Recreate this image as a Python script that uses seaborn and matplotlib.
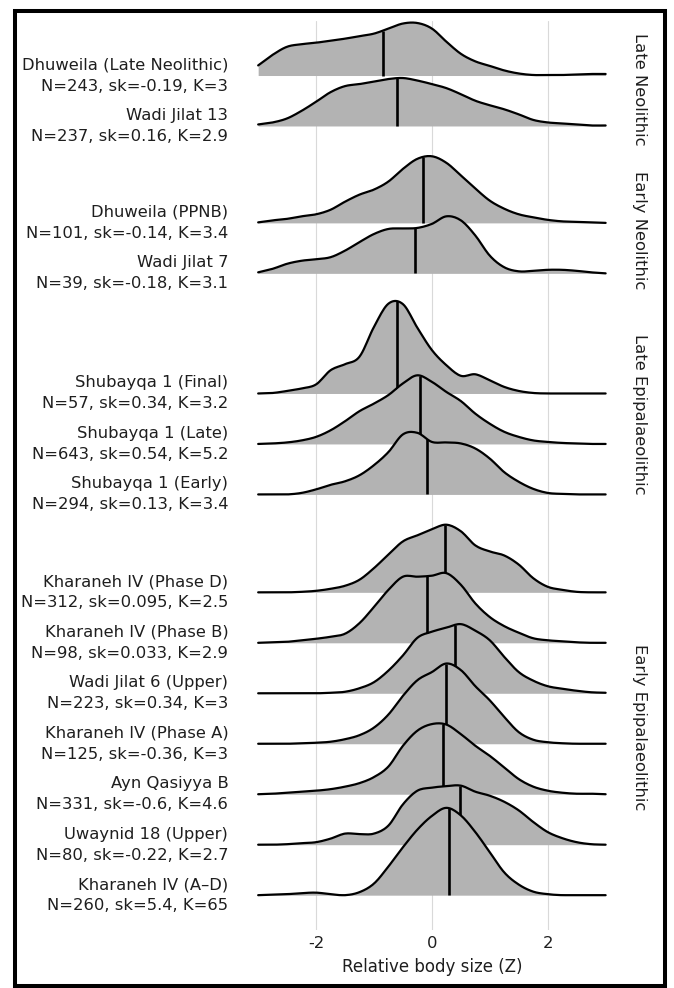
import numpy as np
import pandas as pd
import matplotlib
matplotlib.use("Agg")
import matplotlib.pyplot as plt
import matplotlib.transforms as mtransforms
from matplotlib.patches import Rectangle
import seaborn as sns

# ---------------- data ----------------
sites = ["Dhuweila (Late Neolithic)", "Wadi Jilat 13", "Dhuweila (PPNB)", "Wadi Jilat 7",
         "Shubayqa 1 (Final)", "Shubayqa 1 (Late)", "Shubayqa 1 (Early)",
         "Kharaneh IV (Phase D)", "Kharaneh IV (Phase B)", "Wadi Jilat 6 (Upper)",
         "Kharaneh IV (Phase A)", "Ayn Qasiyya B", "Uwaynid 18 (Upper)", "Kharaneh IV (A\u2013D)"]
n_values = [243, 237, 101, 39, 57, 643, 294, 312, 98, 223, 125, 331, 80, 260]
skew_values = ["-0.19", "0.16", "-0.14", "-0.18", "0.34", "0.54", "0.13",
               "0.095", "0.033", "0.34", "-0.36", "-0.6", "-0.22", "5.4"]
kurt_values = ["3", "2.9", "3.4", "3.1", "3.2", "5.2", "3.4",
               "2.5", "2.9", "3", "3", "4.6", "2.7", "65"]
periods = ["Late Neolithic"] * 2 + ["Early Neolithic"] * 2 + \
          ["Late Epipalaeolithic"] * 3 + ["Early Epipalaeolithic"] * 7
medians = [-0.85, -0.60, -0.16, -0.30, -0.60, -0.20, -0.09,
           0.22, -0.08, 0.40, 0.24, 0.20, 0.49, 0.30]

z_grid = [-3.0, -2.75, -2.5, -2.25, -2.0, -1.75, -1.5, -1.25, -1.0, -0.75, -0.5, -0.25,
          0.0, 0.25, 0.5, 0.75, 1.0, 1.25, 1.5, 1.75, 2.0, 2.25, 2.5, 2.75, 3.0]

dens_dhuweila_ln = [0.20, 0.41, 0.57, 0.62, 0.65, 0.69, 0.73, 0.78, 0.83, 0.93, 1.03, 1.04,
                    0.93, 0.67, 0.43, 0.28, 0.19, 0.10, 0.04, 0.01, 0.01, 0.01, 0.02, 0.03, 0.03]
dens_wadi_jilat_13 = [0.03, 0.07, 0.15, 0.30, 0.48, 0.67, 0.79, 0.83, 0.88, 0.93, 0.95, 0.90,
                      0.83, 0.75, 0.63, 0.50, 0.41, 0.33, 0.23, 0.12, 0.07, 0.05, 0.03, 0.01, 0.01]
dens_dhuweila_ppnb = [0.01, 0.05, 0.08, 0.13, 0.17, 0.26, 0.42, 0.56, 0.66, 0.82, 1.07, 1.27,
                      1.32, 1.19, 0.94, 0.68, 0.44, 0.28, 0.17, 0.11, 0.06, 0.03, 0.02, 0.01, 0.00]
dens_wadi_jilat_7 = [0.02, 0.09, 0.19, 0.25, 0.28, 0.32, 0.45, 0.62, 0.78, 0.88, 0.89, 0.90,
                     0.98, 1.13, 1.05, 0.75, 0.35, 0.12, 0.04, 0.05, 0.07, 0.07, 0.05, 0.02, 0.00]
dens_shub_final = [0.00, 0.01, 0.05, 0.10, 0.18, 0.46, 0.58, 0.73, 1.32, 1.78, 1.77, 1.30,
                   0.86, 0.56, 0.35, 0.38, 0.26, 0.13, 0.05, 0.01, 0.00, 0.00, 0.00, 0.00, 0.00]
dens_shub_late = [0.00, 0.01, 0.03, 0.07, 0.14, 0.27, 0.45, 0.65, 0.80, 0.97, 1.20, 1.36,
                  1.23, 1.03, 0.85, 0.60, 0.40, 0.24, 0.14, 0.07, 0.04, 0.02, 0.01, 0.00, 0.00]
dens_shub_early = [0.00, 0.00, 0.00, 0.03, 0.10, 0.19, 0.26, 0.38, 0.58, 0.84, 1.19, 1.22,
                   1.04, 1.03, 1.01, 0.91, 0.71, 0.44, 0.25, 0.11, 0.03, 0.01, 0.00, 0.00, 0.00]
dens_kh_d = [0.00, 0.00, 0.00, 0.01, 0.03, 0.07, 0.13, 0.25, 0.48, 0.75, 1.01, 1.13,
             1.25, 1.34, 1.21, 0.93, 0.81, 0.73, 0.55, 0.28, 0.11, 0.05, 0.01, 0.00, 0.00]
dens_kh_b = [0.00, 0.01, 0.02, 0.05, 0.08, 0.12, 0.18, 0.39, 0.71, 1.05, 1.31, 1.31,
             1.33, 1.38, 1.15, 0.78, 0.51, 0.33, 0.20, 0.09, 0.05, 0.03, 0.01, 0.00, 0.00]
dens_wj6 = [0.00, 0.00, 0.00, 0.00, 0.00, 0.01, 0.03, 0.10, 0.22, 0.45, 0.75, 1.10,
            1.22, 1.30, 1.37, 1.24, 1.05, 0.72, 0.42, 0.25, 0.14, 0.09, 0.05, 0.02, 0.01]
dens_kh_a = [0.00, 0.00, 0.00, 0.01, 0.02, 0.04, 0.09, 0.17, 0.32, 0.58, 0.95, 1.26,
             1.42, 1.59, 1.46, 1.14, 0.86, 0.53, 0.23, 0.08, 0.03, 0.01, 0.00, 0.00, 0.00]
dens_ayn_qasiyya = [0.00, 0.01, 0.03, 0.05, 0.07, 0.10, 0.15, 0.22, 0.34, 0.55, 0.96, 1.26,
                    1.39, 1.38, 1.19, 0.96, 0.76, 0.53, 0.30, 0.15, 0.07, 0.03, 0.01, 0.01, 0.00]
dens_uwaynid = [0.00, 0.00, 0.01, 0.03, 0.05, 0.12, 0.22, 0.21, 0.22, 0.38, 0.80, 1.07,
                1.13, 1.16, 1.17, 1.05, 0.97, 0.85, 0.68, 0.45, 0.25, 0.13, 0.05, 0.01, 0.00]
dens_kh_ad = [0.00, 0.01, 0.02, 0.04, 0.05, 0.02, 0.00, 0.06, 0.23, 0.57, 0.95, 1.30,
              1.57, 1.73, 1.58, 1.25, 0.85, 0.45, 0.21, 0.07, 0.02, 0.00, 0.00, 0.00, 0.00]

densities = [dens_dhuweila_ln, dens_wadi_jilat_13, dens_dhuweila_ppnb, dens_wadi_jilat_7,
             dens_shub_final, dens_shub_late, dens_shub_early, dens_kh_d, dens_kh_b,
             dens_wj6, dens_kh_a, dens_ayn_qasiyya, dens_uwaynid, dens_kh_ad]

x_ticks = [-2, 0, 2]
x_tick_labels = ["-2", "0", "2"]
x_title = "Relative body size (Z)"


def smooth_curve(xs, ys, sub=10):
    """Draw a smooth (Catmull-Rom) curve through the read points."""
    xs = np.asarray(xs, float)
    ys = np.asarray(ys, float)
    n = len(xs)
    m = np.empty(n)
    m[1:-1] = (ys[2:] - ys[:-2]) / 2.0
    m[0] = ys[1] - ys[0]
    m[-1] = ys[-1] - ys[-2]
    out_x, out_y = [], []
    for i in range(n - 1):
        t = np.linspace(0, 1, sub, endpoint=False)
        h00 = 2 * t**3 - 3 * t**2 + 1
        h10 = t**3 - 2 * t**2 + t
        h01 = -2 * t**3 + 3 * t**2
        h11 = t**3 - t**2
        out_x.append(xs[i] + t * (xs[i + 1] - xs[i]))
        out_y.append(h00 * ys[i] + h10 * m[i] + h01 * ys[i + 1] + h11 * m[i + 1])
    out_x.append([xs[-1]])
    out_y.append([ys[-1]])
    return np.concatenate(out_x), np.clip(np.concatenate(out_y), 0, None)


# ---------------- layout of ridges (group structure) ----------------
panel_pad = 0.6
group_order = []
for p in periods:
    if p not in group_order:
        group_order.append(p)

baselines = []
group_bounds = {}
pos = 0.0
first = True
for g in group_order:
    idx = [i for i, p in enumerate(periods) if p == g]
    top_ext = max(max(densities[i]) - k for k, i in enumerate(idx))
    if not first:
        pos += panel_pad + top_ext
    start = pos
    for k, i in enumerate(idx):
        baselines.append(pos)
        pos += 1.0
    pos -= 1.0
    group_bounds[g] = (start - top_ext, pos + panel_pad)
    first = False

y_top = group_bounds[group_order[0]][0] - 0.03
y_bottom = baselines[-1] + 0.69
group_bounds[group_order[-1]] = (group_bounds[group_order[-1]][0], y_bottom)

labels = [f"{s}\nN={n}, sk={sk}, K={k}" for s, n, sk, k in
          zip(sites, n_values, skew_values, kurt_values)]

# ---------------- figure ----------------
sns.set_style("white")
plt.rcParams["font.family"] = ["DejaVu Sans"]
plt.rcParams["axes.unicode_minus"] = False

W, H = 674, 988
fig = plt.figure(figsize=(W / 100, H / 100), dpi=100)
ax_l, ax_r, ax_t, ax_b = 240.8, 623.0, 21.5, 930.0
ax = fig.add_axes([ax_l / W, 1 - ax_b / H, (ax_r - ax_l) / W, (ax_b - ax_t) / H])

text_col = "#1e1e1e"
fs = 11.8

for gx in x_ticks:
    ax.axvline(gx, color="#D9D9D9", lw=0.8, zorder=0)

for i, (b, d) in enumerate(zip(baselines, densities)):
    xs, h = smooth_curve(z_grid, d)
    top = b - h
    z = 2 + 3 * i
    ax.fill_between(xs, b, top, color="#B3B3B3", lw=0, zorder=z)
    df = pd.DataFrame({"z": xs, "y": top})
    sns.lineplot(data=df, x="z", y="y", color="black", linewidth=1.6,
                 estimator=None, sort=False, ax=ax, zorder=z + 1)
    m = medians[i]
    mh = float(np.interp(m, xs, h))
    ax.plot([m, m], [b, b - mh], color="black", lw=1.9, zorder=z + 1,
            solid_capstyle="butt")

ax.set_xlim(-3.3, 3.3)
ax.set_ylim(y_bottom, y_top)
ax.set_xticks(x_ticks)
ax.set_xticklabels(x_tick_labels)
ax.set_yticks(baselines)
ax.set_yticklabels(labels, linespacing=1.5, ha="right", multialignment="right")
offset = mtransforms.ScaledTranslation(0, 2 / 100, fig.dpi_scale_trans)
for lab in ax.get_yticklabels():
    lab.set_va("center")
    lab.set_transform(lab.get_transform() + offset)
ax.tick_params(axis="both", length=0, labelsize=fs, colors=text_col)
ax.tick_params(axis="y", pad=9)
ax.tick_params(axis="x", pad=4)
ax.set_xlabel(x_title, fontsize=12, color=text_col, labelpad=5)
ax.set_ylabel("")
for s in ax.spines.values():
    s.set_visible(False)

trans = mtransforms.blended_transform_factory(ax.transAxes, ax.transData)
strip_x = (640 - ax_l) / (ax_r - ax_l)
for g in group_order:
    t0, t1 = group_bounds[g]
    ax.text(strip_x, (t0 + t1) / 2, g, rotation=-90, ha="center", va="center",
            transform=trans, fontsize=fs, color=text_col)

fig.patches.append(Rectangle((15 / W, 1 - 986 / H), (665 - 15) / W, (986 - 11.3) / H,
                             transform=fig.transFigure, fill=False, edgecolor="black",
                             lw=2.9, zorder=10))

fig.savefig("out.png", dpi=100)
